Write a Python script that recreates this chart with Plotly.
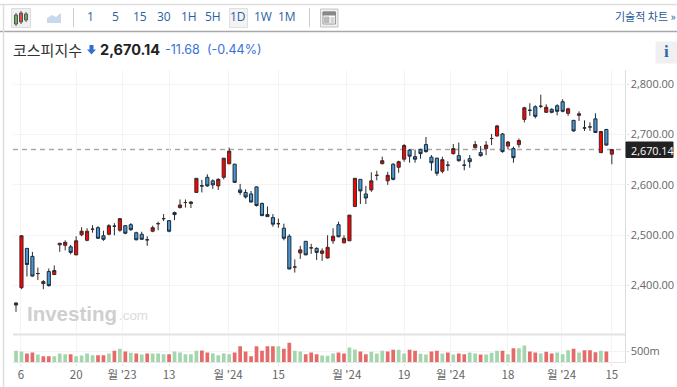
import plotly.graph_objects as go

opens = [2361.5,2396,2474,2458,2424,2404,2428,2422,2481,2480,2477,2461,2501,2490,2512,2515,2499,2502,2518,2510,2519,2521,2505,2502,2491,2508,2523,2533,2529,
 2545,2555,2565,2563,2585,2598,2615,2608,2598,2615,2642,2641,2590,2585,2582,2596,2563,2541,2535,2523,2514,2498,2437,2465,2488,2475,2474,2464,2455,2489,2521,
 2485,2489,2557,2611,2582,2590,2619,2642,2608,2641,2635,2651,2669,2656,2670,2680,2655,2653,2627,2639,2662,2658,2639,2652,2674,2664,2672,2692,2697,2701,2677,2672,2680,
 2730,2748,2755,2756,2744,2750,2757,2765,2742,2728,2738,2713,2715,2731,2664,2710,2661]
highs = [2367,2499,2474,2467,2436,2411,2434,2440,2485,2490,2481,2498,2516,2514,2520,2518,2509,2522,2524,2533,2520,2524,2507,2507,2498,2519,2527,2542,2530,
 2547,2571,2571,2568,2613,2610,2621,2611,2613,2653,2674,2642,2602,2591,2588,2597,2565,2557,2542,2533,2523,2502,2452,2479,2488,2483,2476,2474,2500,2514,2527,
 2500,2540,2613,2611,2598,2625,2628,2656,2626,2643,2648,2681,2671,2670,2672,2695,2659,2654,2656,2647,2681,2684,2650,2659,2687,2677,2687,2701,2719,2703,2687,2676,2692,
 2755,2762,2758,2779,2760,2752,2760,2770,2753,2729,2746,2728,2724,2742,2707,2711,2670.14]
lows = [2348,2393,2418,2418,2411,2393,2398,2421,2467,2470,2462,2461,2498,2488,2505,2493,2489,2500,2500,2507,2502,2509,2490,2491,2479,2506,2510,2528,2506,
 2530,2553,2555,2554,2585,2585,2596,2592,2590,2611,2641,2604,2580,2573,2565,2557,2538,2537,2517,2515,2490,2433,2426,2453,2461,2463,2451,2449,2454,2483,2496,
 2484,2489,2557,2562,2562,2586,2609,2641,2600,2609,2624,2646,2644,2644,2652,2664,2628,2618,2623,2628,2660,2646,2629,2634,2672,2656,2659,2679,2696,2664,2671,2644,2674,
 2724,2737,2732,2752,2743,2742,2738,2744,2737,2706,2727,2707,2707,2703,2663,2678,2641]
closes = [2365.5,2499,2442,2419,2424,2408,2400,2430,2484,2486,2466,2489,2508,2508,2512,2494,2492,2519,2518,2533,2504,2511,2491,2492,2491,2515,2523,2533,2508,
 2541,2560,2565,2566,2613,2598,2598,2600,2611,2653,2667,2605,2585,2576,2566,2559,2539,2537,2522,2523,2494,2433,2437,2471,2461,2475,2466,2469,2476,2498,2497,
 2494,2540,2613,2588,2574,2608,2619,2648,2619,2611,2646,2678,2657,2651,2662,2666,2644,2623,2650,2639,2672,2648,2639,2646,2680,2658,2679,2692,2717,2666,2685,2654,2688,
 2753,2748,2736,2756,2754,2744,2746,2746,2751,2707,2741,2713,2715,2704,2706,2679,2670.14]
volumes = [530,500,409,455,364,288,288,288,409,379,379,288,318,409,333,333,333,409,530,621,500,439,409,364,409,409,409,379,379,500,455,379,379,530,545,455,409,333,409,379,455,742,500,288,742,530,742,742,742,621,894,530,500,379,455,379,318,303,409,455,
 409,682,591,500,379,485,409,530,500,576,576,409,576,530,394,364,500,530,409,455,364,409,379,455,409,364,364,439,530,530,379,651,651,773,500,455,409,485,409,455,379,560,621,455,560,560,470,530,500]
volume_dirs = list("GGRRGRRGGGRGGGGRRGRGRGRGRGGGRGGGGGRRGGGGRRRRRRRRGRRGGRRRGGGR"
                   "RGGRRGGGRRGGRRGGRRGRGRRGGRGGGRGRGGRRGRRGGGRGRRRGR")
x_idx = list(range(len(closes)))
tick_pos = [0.9, 11, 19.4, 28, 38.8, 48, 60.5, 71, 79.5, 90, 99.8, 109]
tick_labels = ["6", "20", "월 '23", "13", "월 '24", "15", "월 '24", "19", "월 '24", "18", "월 '24", "15"]
price_ticks = [2400, 2500, 2600, 2700, 2800]
last_price = 2670.14

W, H = 677, 387
L, R, T, B = 13, 625.5, 70, 362.5
FONT = "Noto Sans CJK KR, Noto Sans, sans-serif"
def px(x): return x / W
def py(y): return 1 - y / H

fig = go.Figure()
fig.add_trace(go.Candlestick(
    x=x_idx, open=opens, high=highs, low=lows, close=closes, xaxis="x2", yaxis="y",
    increasing=dict(line=dict(color="#3a2a2a", width=1), fillcolor="#ff0000"),
    decreasing=dict(line=dict(color="#1e2a36", width=1), fillcolor="#4a98d3"),
    whiskerwidth=0, hoverinfo="skip", showlegend=False))
vol_x = x_idx[:len(volumes)]
fig.add_trace(go.Bar(
    x=vol_x, y=volumes, xaxis="x", yaxis="y2", width=0.68,
    marker=dict(color=["#a4d6ad" if d == "G" else "#e76a6a" for d in volume_dirs], line_width=0),
    hoverinfo="skip", showlegend=False))

rng = [-0.55, 111.5]
shapes = []
def line(x0, y0, x1, y1, color, width=1, dash="solid"):
    shapes.append(dict(type="line", xref="paper", yref="paper", x0=px(x0), x1=px(x1), y0=py(y0), y1=py(y1),
                       line=dict(color=color, width=width, dash=dash), layer="above"))
def rect(x0, y0, x1, y1, fill, border=None):
    shapes.append(dict(type="rect", xref="paper", yref="paper", x0=px(x0), x1=px(x1), y0=py(y0), y1=py(y1),
                       fillcolor=fill, line=dict(color=border or fill, width=1), layer="above"))
def poly(points, fill):
    p = "M" + "L".join(f"{px(a):.5f},{py(b):.5f}" for a, b in points) + "Z"
    shapes.append(dict(type="path", xref="paper", yref="paper", path=p, fillcolor=fill, line=dict(width=0), layer="above"))

# frame
line(0, 4.5, W, 4.5, "#dddddd", 1.5)
line(0, 31.5, W, 31.5, "#a8a8a8", 1.5)
line(3.5, 4, 3.5, H, "#dddddd", 1.5)
line(13, 334.5, R, 334.5, "#e2e2e2", 2)
line(13, 362.5, R, 362.5, "#e6e6e6", 1)
line(R, 70, R, 362.5, "#dddddd", 1)
line(73.5, 8, 73.5, 27, "#cccccc", 1)
line(309.5, 8, 309.5, 27, "#cccccc", 1)
# candle icon
rect(11.5, 8.5, 30.5, 27.5, "#efefef", "#dcdcdc")
for cx, top, bot, col in [(16, 15, 24, "#6cab5c"), (21, 13, 22, "#e24a3a"), (26, 14, 20, "#6cab5c")]:
    line(cx, top - 2, cx, bot + 2, "#555555", 1)
    rect(cx - 1.5, top, cx + 1.5, bot, col, "#555555")
# area icon
poly([(47, 23), (47, 18), (52, 15), (56, 17), (61, 13), (61, 23)], "#c9d8ea")
# active 1D button
rect(229.5, 8.5, 247.5, 27.5, "#f3f3f3", "#e0e0e0")
# layout icon
rect(320.5, 9, 338, 27, "#f0f0f0", "#c4c4c4")
rect(323, 12, 335.5, 24, "#ffffff", "#999999")
rect(323, 12, 335.5, 15, "#888888", "#888888")
rect(324.5, 17, 329, 22.5, "#bbbbbb", "#bbbbbb")
line(330.5, 18, 334.5, 18, "#aaaaaa"); line(330.5, 20, 334.5, 20, "#aaaaaa"); line(330.5, 22, 334.5, 22, "#aaaaaa")
# arrow
poly([(89.5, 45), (93.5, 45), (93.5, 49.5), (96, 49.5), (91.5, 54.5), (87, 49.5), (89.5, 49.5)], "#2f6fd0")
# info button
rect(656, 42, 677, 63, "#f0f0f0")
# last price
shapes.append(dict(type="line", xref="paper", yref="y", x0=px(L), x1=px(R), y0=last_price, y1=last_price,
                   line=dict(color="#aaaaaa", width=1.5, dash="5px,4px"), layer="below"))
rect(626, 142, 673, 157.5, "#222222")

anns = []
def text(x, y, s, size, color, anchor="left", bold=False, family=FONT):
    anns.append(dict(xref="paper", yref="paper", x=px(x), y=py(y), text=f"<b>{s}</b>" if bold else s,
                     showarrow=False, xanchor=anchor, yanchor="middle",
                     font=dict(size=size, color=color, family=family), borderpad=0, borderwidth=0))
for lab, xc in [("1", 90), ("5", 115), ("15", 140), ("30", 164), ("1H", 189), ("5H", 213), ("1D", 238), ("1W", 263), ("1M", 287)]:
    text(xc, 16.8, lab, 12, "#2c5f9e", "center", family="Open Sans, sans-serif")
text(615, 16, "기술적 차트 »", 11, "#1f5a96")
text(13, 49.5, "코스피지수", 15, "#333333")
text(100, 50, "2,670.14", 14.5, "#222222", bold=True, family="Inter, sans-serif")
text(165, 50, "-11.68", 12.5, "#3a6fd8", family="Inter, sans-serif")
text(207, 50, "(-0.44%)", 12.5, "#3a6fd8", family="Inter, sans-serif")
text(666.5, 52, "i", 17, "#2a66a8", "center", bold=True, family="Liberation Serif, serif")
text(27, 313, "Investing", 20.5, "#cfcfcf", bold=True, family="Liberation Sans, sans-serif")
text(118.5, 315, ".com", 13.4, "#dcdcdc", family="Liberation Sans, sans-serif")
text(630.5, 150, "2,670.14", 10.8, "#ffffff", family="Open Sans, sans-serif")

axis_font = dict(family="Open Sans, sans-serif", size=11, color="#666666")
grid = "#f4f4f4"
xdom = [px(L), px(R)]
fig.update_layout(
    width=W, height=H, autosize=False, paper_bgcolor="white", plot_bgcolor="white",
    margin=dict(l=0, r=0, t=0, b=0, pad=0), showlegend=False,
    bargap=0.3, boxgap=0.18, shapes=shapes, annotations=anns,
    xaxis=dict(domain=xdom, anchor="y2", range=rng, tickmode="array", tickvals=tick_pos, ticktext=tick_labels,
               showgrid=True, gridcolor=grid, zeroline=False, showline=False, ticks="outside", ticklen=2, tickcolor="#e0e0e0",
               tickfont=dict(family=FONT, size=11.5, color="#666666"), rangeslider=dict(visible=False)),
    xaxis2=dict(domain=xdom, anchor="y", range=rng, tickmode="array", tickvals=tick_pos, ticktext=[""] * len(tick_pos),
                showgrid=True, gridcolor=grid, zeroline=False, showticklabels=False, ticks="", rangeslider=dict(visible=False)),
    yaxis=dict(domain=[py(333), py(T)], anchor="x2", side="right", range=[2306, 2828], tickmode="array",
               tickvals=price_ticks, tickformat=",.2f", showgrid=True, gridcolor=grid, zeroline=False, showline=False,
               ticks="outside", ticklen=2, tickcolor="#dddddd", tickfont=axis_font),
    yaxis2=dict(domain=[py(B), py(337)], anchor="x", side="right", range=[0, 1159], tickmode="array",
                tickvals=[500], ticktext=["500m"], showgrid=True, gridcolor=grid, zeroline=False, showline=False,
                ticks="outside", ticklen=2, tickcolor="#dddddd", tickfont=axis_font),
)
fig.write_html("out.html", config=dict(displayModeBar=False),
               post_script="document.body.style.margin='0';document.documentElement.style.overflow='hidden';")
